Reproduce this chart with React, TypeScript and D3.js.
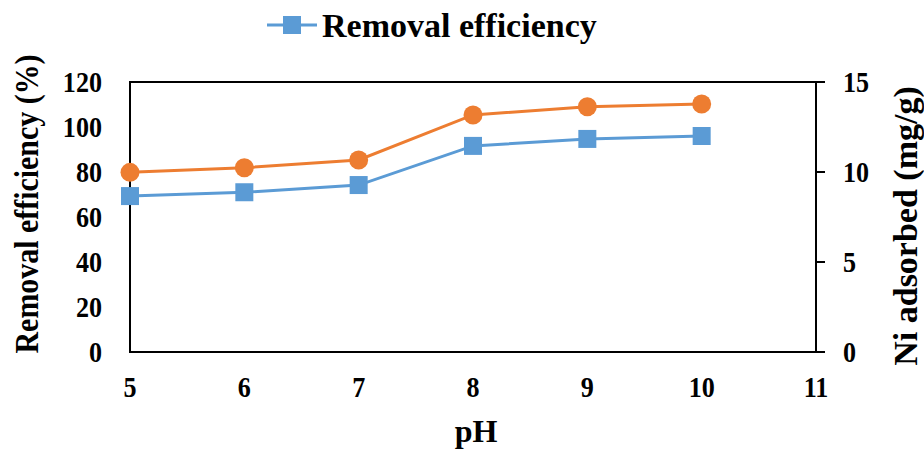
import React from "react";
import * as d3 from "d3";

const phValues = [5, 6, 7, 8, 9, 10];
const removalEfficiency = [69.3, 71.0, 74.2, 91.6, 94.7, 96.0];
const niAdsorbed = [9.98, 10.24, 10.67, 13.17, 13.63, 13.78];
const xTicks = [5, 6, 7, 8, 9, 10, 11];
const leftTicks = [0, 20, 40, 60, 80, 100, 120];
const rightTicks = [0, 5, 10, 15];

const W = 924;
const H = 449;
const M = { left: 130, right: 816, top: 82, bottom: 352 };
const BLUE = "#5B9BD5";
const ORANGE = "#ED7D31";
const FONT = "'Liberation Serif', 'Times New Roman', serif";
const TICK_FS = 29;
const TICK_SX = 0.9;

export default function App() {
  const x = d3.scaleLinear().domain([5, 11]).range([M.left, M.right]);
  const yL = d3.scaleLinear().domain([0, 120]).range([M.bottom, M.top]);
  const yR = d3.scaleLinear().domain([0, 15]).range([M.bottom, M.top]);

  const lineL = d3
    .line<number>()
    .x((_, i) => x(phValues[i]))
    .y((d) => yL(d));
  const lineR = d3
    .line<number>()
    .x((_, i) => x(phValues[i]))
    .y((d) => yR(d));

  return (
    <svg
      width={W}
      height={H}
      style={{ position: "absolute", left: 0, top: 0, background: "#fff" }}
      fontFamily={FONT}
      fontWeight="bold"
    >
      <rect x={0} y={0} width={W} height={H} fill="#fff" />
      {/* legend */}
      <line x1={267} x2={317} y1={25} y2={25} stroke={BLUE} strokeWidth={3} />
      <rect x={283} y={16} width={18} height={18} fill={BLUE} />
      <text x={322} y={37} fontSize={34} fill="#000">
        Removal efficiency
      </text>

      {/* plot border */}
      <rect
        x={M.left}
        y={M.top}
        width={M.right - M.left}
        height={M.bottom - M.top}
        fill="none"
        stroke="#000"
        strokeWidth={2}
      />

      {/* right ticks */}
      {rightTicks.map((t) => (
        <g key={"r" + t}>
          <line x1={M.right} x2={M.right + 9} y1={yR(t)} y2={yR(t)} stroke="#000" strokeWidth={2} />
          <text
            transform={`translate(843, ${yR(t)}) scale(${TICK_SX}, 1)`}
            dy="0.35em"
            fontSize={TICK_FS}
            fill="#000"
          >
            {t}
          </text>
        </g>
      ))}

      {/* left ticks */}
      {leftTicks.map((t) => (
        <text
          key={"l" + t}
          transform={`translate(102, ${yL(t)}) scale(${TICK_SX}, 1)`}
          dy="0.35em"
          fontSize={TICK_FS}
          textAnchor="end"
          fill="#000"
        >
          {t}
        </text>
      ))}

      {/* x ticks */}
      {xTicks.map((t) => (
        <text
          key={"x" + t}
          transform={`translate(${x(t)}, 397) scale(${TICK_SX}, 1)`}
          fontSize={TICK_FS}
          textAnchor="middle"
          fill="#000"
        >
          {t}
        </text>
      ))}

      {/* axis titles */}
      <text x={476} y={442} fontSize={32} textAnchor="middle" fill="#000">
        pH
      </text>
      <text
        transform={`translate(38, 204) rotate(-90) scale(0.88, 1)`}
        fontSize={34}
        textAnchor="middle"
        fill="#000"
      >
        Removal efficiency (%)
      </text>
      <text
        transform={`translate(917, 226) rotate(-90)`}
        fontSize={34}
        textAnchor="middle"
        fill="#000"
      >
        Ni adsorbed (mg/g)
      </text>

      {/* series */}
      <path d={lineL(removalEfficiency) || ""} fill="none" stroke={BLUE} strokeWidth={3} />
      {removalEfficiency.map((v, i) => (
        <rect key={"s" + i} x={x(phValues[i]) - 9} y={yL(v) - 9} width={18} height={18} fill={BLUE} />
      ))}
      <path d={lineR(niAdsorbed) || ""} fill="none" stroke={ORANGE} strokeWidth={3} />
      {niAdsorbed.map((v, i) => (
        <circle key={"c" + i} cx={x(phValues[i])} cy={yR(v)} r={9.5} fill={ORANGE} />
      ))}
    </svg>
  );
}
